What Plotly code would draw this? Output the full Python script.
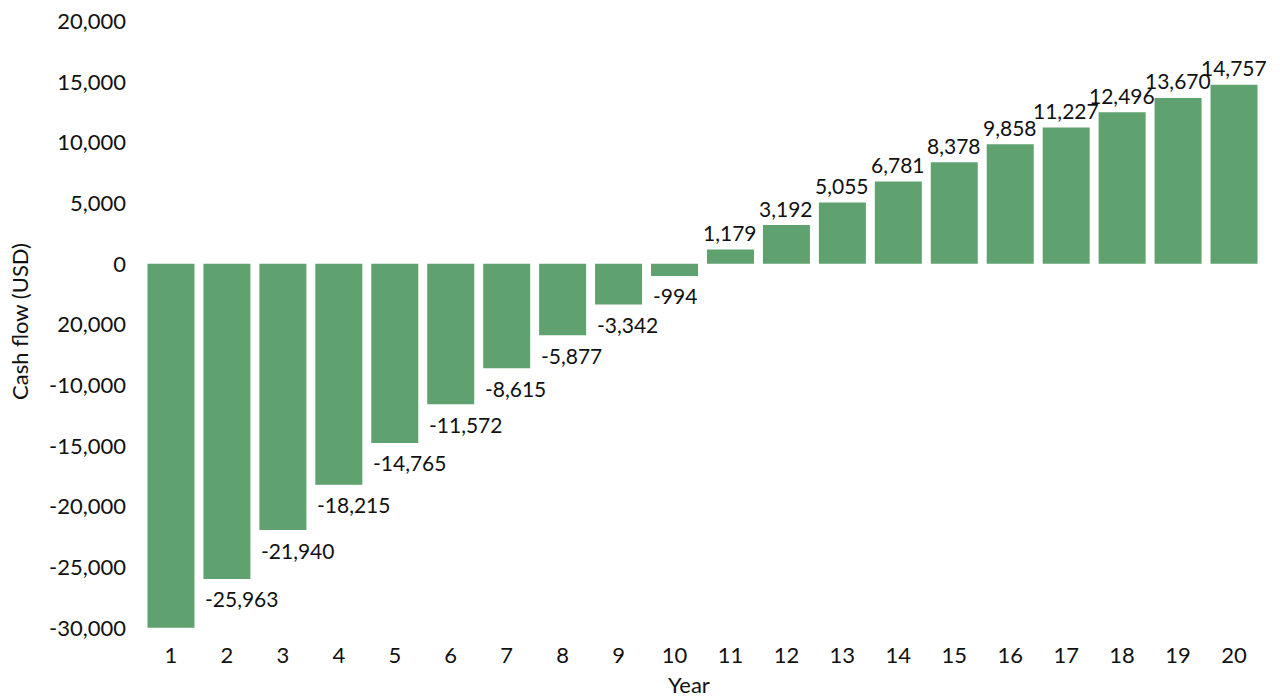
import plotly.graph_objects as go

# Annual cash flow, years 1-20 (USD)
years = list(range(1, 21))
cash_flow = [-30000, -25963, -21940, -18215, -14765, -11572, -8615, -5877, -3342, -994,
             1179, 3192, 5055, 6781, 8378, 9858, 11227, 12496, 13670, 14757]
# Year 1 carries no value label
show_label = [False] + [True] * 19

tick_vals = [20000, 15000, 10000, 5000, 0, -5000, -10000, -15000, -20000, -25000, -30000]
tick_text = ["20,000", "15,000", "10,000", "5,000", "0", "20,000", "-10,000",
             "-15,000", "-20,000", "-25,000", "-30,000"]

BAR_COLOR = "#5fa16f"
TEXT_COLOR = "#111111"
FONT = "Lato, 'Open Sans', sans-serif"

fig = go.Figure(go.Bar(x=years, y=cash_flow, marker_color=BAR_COLOR,
                       marker_line_width=0, hoverinfo="x+y"))

annotations = []
for yr, v, show in zip(years, cash_flow, show_label):
    if not show:
        continue
    if v >= 0:
        annotations.append(dict(x=yr, y=v, text=f"{v:,}", showarrow=False,
                                xanchor="center", yanchor="middle", yshift=17,
                                font=dict(size=21, color=TEXT_COLOR, family=FONT)))
    else:
        annotations.append(dict(x=yr, y=v, text=f"{v:,}", showarrow=False,
                                xanchor="left", yanchor="middle", xshift=-24, yshift=-20,
                                font=dict(size=21, color=TEXT_COLOR, family=FONT)))

# Axis titles
annotations.append(dict(text="Year", xref="paper", yref="paper", x=0.488, y=0,
                        xanchor="center", yanchor="middle", yshift=-44, showarrow=False,
                        font=dict(size=22, color=TEXT_COLOR, family=FONT)))
annotations.append(dict(text="Cash flow (USD)", xref="paper", yref="paper", x=0, y=0.504,
                        xanchor="center", yanchor="middle", xshift=-123, textangle=-90,
                        showarrow=False, font=dict(size=22, color=TEXT_COLOR, family=FONT)))

fig.update_layout(
    width=1280, height=699,
    margin=dict(l=143, r=18, t=9, b=59),
    paper_bgcolor="white", plot_bgcolor="white",
    bargap=0.16,
    showlegend=False,
    font=dict(family=FONT, color=TEXT_COLOR, size=22),
    annotations=annotations,
    xaxis=dict(range=[0.5, 20.5], tickmode="array", tickvals=years,
               ticktext=[str(y) for y in years], showgrid=False, zeroline=False,
               showline=False, ticks="", tickfont=dict(size=22), automargin=False),
    yaxis=dict(range=[-31000, 21000], tickmode="array", tickvals=tick_vals,
               ticktext=tick_text, showgrid=False, zeroline=False, showline=False,
               ticks="", ticklabelstandoff=16, tickfont=dict(size=22), automargin=False),
)

fig.write_html("out.html")
